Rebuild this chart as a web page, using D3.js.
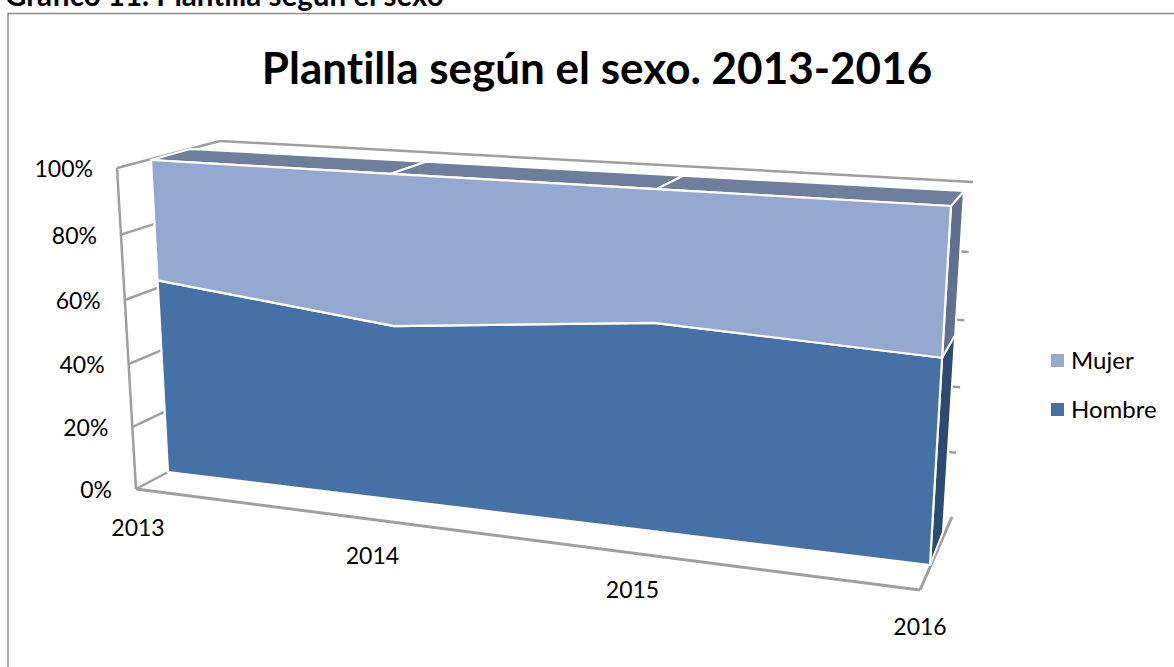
<!DOCTYPE html>
<html>
<head>
<meta charset="utf-8">
<title>Plantilla según el sexo</title>
<script src="https://cdn.jsdelivr.net/npm/d3@7"></script>
<style>
html, body { margin: 0; padding: 0; background: #fff; overflow: hidden; }
text { font-family: Lato, "Open Sans", sans-serif; fill: #000; font-variant-ligatures: none; }
</style>
</head>
<body>
<script>
var years = ["2013", "2014", "2015", "2016"];
var hombre = [62.5, 54.5, 62, 59];
var mujer = [37.5, 45.5, 38, 41];
var seriesNames = ["Hombre", "Mujer"];
var legendOrder = ["Mujer", "Hombre"];
var percentTicks = [0, 0.2, 0.4, 0.6, 0.8, 1];
var colors = { Hombre: "#4571a7", Mujer: "#95a9d0" };
var sideColors = { Hombre: "#2d4a73", Mujer: "#5f7090" };
var topColor = "#6e7f9e";
var lineColor = "#9f9f9f";

var width = 1174;
var height = 667;

// unit square -> picture plane, perspective keeps the uneven year spacing
function planeProjector(tl, tr, br, bl) {
    var sx = tl[0] - tr[0] + br[0] - bl[0];
    var sy = tl[1] - tr[1] + br[1] - bl[1];
    var dx1 = tr[0] - br[0], dx2 = bl[0] - br[0];
    var dy1 = tr[1] - br[1], dy2 = bl[1] - br[1];
    var den = dx1 * dy2 - dx2 * dy1;
    var g = (sx * dy2 - dx2 * sy) / den;
    var h = (dx1 * sy - sx * dy1) / den;
    var a = tr[0] - tl[0] + g * tr[0], b = bl[0] - tl[0] + h * bl[0];
    var d = tr[1] - tl[1] + g * tr[1], e = bl[1] - tl[1] + h * bl[1];
    // u runs along the years, v runs up the percent axis
    return function (u, v) {
        var s = u, t = 1 - v;
        var w = g * s + h * t + 1;
        return [(a * s + b * t + tl[0]) / w, (d * s + e * t + tl[1]) / w];
    };
}

var boxFront = planeProjector([117, 168], [941, 221], [920, 590], [136, 489]);
var boxBack = planeProjector([220, 141], [973, 182], [952, 517], [236, 436]);
var areaFront = planeProjector([151, 160], [951, 206], [930, 565], [168, 472]);
var areaBack = planeProjector([190, 149], [964, 191], [943, 532], [205, 452]);

var xScale = d3.scalePoint().domain(years).range([0, 1]);
var yScale = d3.scaleLinear().domain([0, 1]).range([0, 1]);

var table = years.map(function (year, i) {
    return { year: year, Hombre: hombre[i], Mujer: mujer[i] };
});
var stacked = d3.stack().keys(seriesNames).offset(d3.stackOffsetExpand)(table);

var svg = d3.select("body").append("svg")
    .attr("width", width)
    .attr("height", height)
    .style("display", "block");

var toPath = d3.line();

function drawLine(a, b, w) {
    svg.append("path")
        .attr("d", toPath([a, b]))
        .attr("fill", "none")
        .attr("stroke", lineColor)
        .attr("stroke-width", w || 2.5);
}

// caption cut by the top of the picture, and the chart frame
svg.append("text")
    .attr("x", 5)
    .attr("y", 6)
    .attr("font-size", 29.5)
    .attr("font-weight", 700)
    .text("Gráfico 11. Plantilla según el sexo");

svg.append("path")
    .attr("d", toPath([[8, height], [8, 13.5], [width, 13.5]]))
    .attr("fill", "none")
    .attr("stroke", "#8c8c8c")
    .attr("stroke-width", 1.5);

svg.append("text")
    .attr("x", 597)
    .attr("y", 84)
    .attr("text-anchor", "middle")
    .attr("font-size", 44)
    .attr("font-weight", 700)
    .text("Plantilla según el sexo. 2013-2016");

// box behind the areas
percentTicks.forEach(function (p) {
    var v = yScale(p);
    drawLine(boxFront(0, v), boxBack(0, v));
    if (p > 0 && p < 1) drawLine(boxBack(0.96, v), boxBack(1, v));
    svg.append("text")
        .attr("x", boxFront(0, v)[0] - 24)
        .attr("y", boxFront(0, v)[1] + 9)
        .attr("text-anchor", "end")
        .attr("font-size", 23)
        .text(d3.format(".0%")(p));
});
drawLine(boxFront(0, 1), boxFront(0, 0));
drawLine(boxBack(0, 1), boxBack(1, 1));
drawLine(boxFront(0, 0), boxFront(1, 0), 3);
drawLine(boxFront(1, 0), boxBack(1, 0), 3);

years.forEach(function (year) {
    var p = boxFront(xScale(year), 0);
    svg.append("text")
        .attr("x", p[0] + (year === years[0] ? 2 : 0))
        .attr("y", p[1] + (year === years[0] ? 47 : 45))
        .attr("text-anchor", "middle")
        .attr("font-size", 23)
        .text(year);
});

// side of the last year, one panel per series
stacked.forEach(function (s) {
    var last = s[s.length - 1];
    var lo = yScale(last[0]), hi = yScale(last[1]);
    svg.append("path")
        .attr("d", toPath([areaFront(1, lo), areaBack(1, lo), areaBack(1, hi), areaFront(1, hi)]) + "Z")
        .attr("fill", sideColors[s.key])
        .attr("stroke", "#fff")
        .attr("stroke-width", 2)
        .attr("stroke-linejoin", "round");
});

// top of the Mujer layer, split at each year
d3.pairs(years).forEach(function (pair) {
    var u0 = xScale(pair[0]), u1 = xScale(pair[1]);
    svg.append("path")
        .attr("d", toPath([areaFront(u0, 1), areaBack(u0, 1), areaBack(u1, 1), areaFront(u1, 1)]) + "Z")
        .attr("fill", topColor)
        .attr("stroke", "#fff")
        .attr("stroke-width", 2)
        .attr("stroke-linejoin", "round");
});

// front faces
stacked.forEach(function (s) {
    var upper = s.map(function (d) {
        return areaFront(xScale(d.data.year), yScale(d[1]));
    });
    var lower = s.map(function (d) {
        return areaFront(xScale(d.data.year), yScale(d[0]));
    }).reverse();
    svg.append("path")
        .attr("d", toPath(upper.concat(lower)) + "Z")
        .attr("fill", colors[s.key])
        .attr("stroke", "#fff")
        .attr("stroke-width", 2.2)
        .attr("stroke-linejoin", "round");
});

// legend
var legendY = d3.scalePoint().domain(legendOrder).range([360.5, 409.5]);
legendOrder.forEach(function (name) {
    svg.append("rect")
        .attr("x", 1051)
        .attr("y", legendY(name) - 6.5)
        .attr("width", 13)
        .attr("height", 13)
        .attr("fill", colors[name]);
    svg.append("text")
        .attr("x", 1071)
        .attr("y", legendY(name) + 8)
        .attr("font-size", 24)
        .text(name);
});
</script>
</body>
</html>
